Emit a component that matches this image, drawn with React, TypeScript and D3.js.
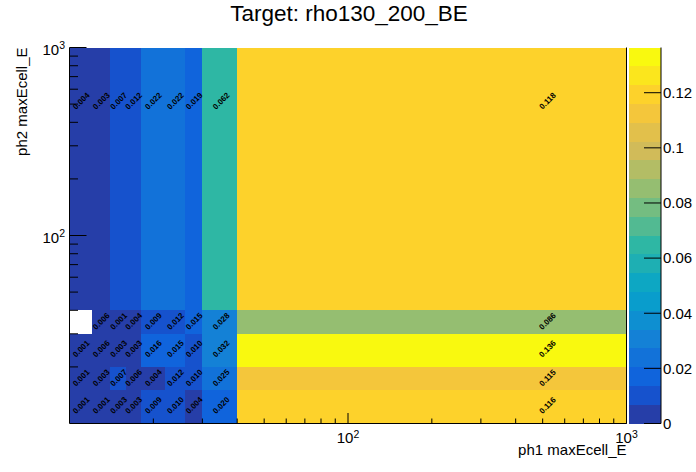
import React from 'react';
import * as d3 from 'd3';

// ---- data ----
const xEdges = [10, 12, 14, 16, 18, 22, 26, 30, 40, 1000];
const yEdges = [10, 15, 20, 30, 40, 1000];
const row0 = [0.001, 0.001, 0.003, 0.003, 0.009, 0.010, 0.004, 0.020, 0.116];
const row1 = [0.001, 0.003, 0.007, 0.006, 0.004, 0.012, 0.010, 0.025, 0.115];
const row2 = [0.001, 0.006, 0.003, 0.003, 0.016, 0.015, 0.010, 0.032, 0.1364];
const row3 = [0, 0.006, 0.001, 0.004, 0.009, 0.012, 0.015, 0.028, 0.086];
const row4 = [0.004, 0.003, 0.007, 0.012, 0.022, 0.022, 0.019, 0.062, 0.118];
const rows = [row0, row1, row2, row3, row4];
const majorTicks = [100, 1000];
const minorTicks = [20, 30, 40, 50, 60, 70, 80, 90, 200, 300, 400, 500, 600, 700, 800, 900];
const zTicks = [0, 0.02, 0.04, 0.06, 0.08, 0.1, 0.12];
const zTickLabels = ['0', '0.02', '0.04', '0.06', '0.08', '0.1', '0.12'];
const title = 'Target: rho130_200_BE';
const xTitle = 'ph1 maxEcell_E';
const yTitle = 'ph2 maxEcell_E';

// ROOT kBird palette
const birdStops = [0.0, 0.125, 0.25, 0.375, 0.5, 0.625, 0.75, 0.875, 1.0];
const birdR = [0.2082, 0.0592, 0.0780, 0.0232, 0.1802, 0.5301, 0.8186, 0.9956, 0.9764];
const birdG = [0.1664, 0.3599, 0.5041, 0.6419, 0.7178, 0.7492, 0.7328, 0.7862, 0.9832];
const birdB = [0.5293, 0.8684, 0.8385, 0.7914, 0.6425, 0.4662, 0.3499, 0.1968, 0.0539];
const NCOL = 255;
const NDIV = 20;

function buildPalette(): string[] {
  const cols: string[] = [];
  for (let g = 1; g < birdStops.length; g++) {
    const len = Math.floor(birdStops[g] * NCOL) - Math.floor(birdStops[g - 1] * NCOL);
    for (let c = 0; c < len; c++) {
      const r = birdR[g - 1] + (c * (birdR[g] - birdR[g - 1])) / len;
      const gg = birdG[g - 1] + (c * (birdG[g] - birdG[g - 1])) / len;
      const b = birdB[g - 1] + (c * (birdB[g] - birdB[g - 1])) / len;
      cols.push(d3.rgb(r * 255, gg * 255, b * 255).formatHex());
    }
  }
  return cols;
}
const palette = buildPalette();
const levelColor = (i: number) => palette[Math.min(palette.length - 1, Math.floor(((i + 0.99) * NCOL) / NDIV))];

const W = 696;
const H = 472;
const X0 = 69.5, X1 = 626.5, Y0 = 47.5, Y1 = 423.5;
const CB0 = 629, CB1 = 661;
const FONT = 'Liberation Sans, Arial, Helvetica, sans-serif';

export default function App() {
  const x = d3.scaleLog().domain([xEdges[0], xEdges[xEdges.length - 1]]).range([X0, X1]);
  const y = d3.scaleLog().domain([yEdges[0], yEdges[yEdges.length - 1]]).range([Y1, Y0]);
  const zmax = d3.max(rows.flat()) as number;
  const z = d3.scaleLinear().domain([0, zmax]).range([Y1, Y0]);
  const levelOf = (v: number) => Math.min(NDIV - 1, Math.floor(0.01 + (v * NDIV) / zmax));

  const cells: any[] = [];
  rows.forEach((row, j) => {
    row.forEach((v, i) => {
      cells.push({ i, j, v });
    });
  });

  return (
    <svg width={W} height={H} style={{ position: 'absolute', left: 0, top: 0, background: '#fff' }} fontFamily={FONT}>
      <rect x={0} y={0} width={W} height={H} fill="#fff" />
      {/* cells */}
      {cells.filter(c => c.v > 0).map(c => (
        <rect key={`c${c.i}-${c.j}`}
          x={x(xEdges[c.i])} y={y(yEdges[c.j + 1])}
          width={x(xEdges[c.i + 1]) - x(xEdges[c.i])}
          height={y(yEdges[c.j]) - y(yEdges[c.j + 1])}
          fill={levelColor(levelOf(c.v))} shapeRendering="crispEdges" />
      ))}
      {/* cell text */}
      {cells.filter(c => c.v > 0).map(c => {
        const cx = x((xEdges[c.i] + xEdges[c.i + 1]) / 2);
        const cy = y((yEdges[c.j] + yEdges[c.j + 1]) / 2);
        return (
          <text key={`t${c.i}-${c.j}`} x={cx} y={cy} transform={`rotate(-45 ${cx} ${cy})`}
            textAnchor="middle" dy="0.35em" fontSize={8} fontWeight="bold" fill="#000">{c.v.toFixed(3)}</text>
        );
      })}
      {/* frame lines */}
      <line x1={X0} x2={X0} y1={Y0} y2={Y1} stroke="#000" strokeWidth={1} />
      <line x1={X0} x2={X1} y1={Y1} y2={Y1} stroke="#000" strokeWidth={1} />
      <line x1={X1} x2={X1} y1={Y0} y2={Y1} stroke="#000" strokeWidth={1} />
      {/* x ticks */}
      {majorTicks.map(t => (
        <line key={`xm${t}`} x1={x(t)} x2={x(t)} y1={Y1} y2={Y1 - 10.5} stroke="#000" />
      ))}
      {minorTicks.map(t => (
        <line key={`xn${t}`} x1={x(t)} x2={x(t)} y1={Y1} y2={Y1 - 5} stroke="#000" />
      ))}
      {/* y ticks */}
      {majorTicks.map(t => (
        <line key={`ym${t}`} x1={X0} x2={X0 + 17} y1={y(t)} y2={y(t)} stroke="#000" />
      ))}
      {minorTicks.map(t => (
        <line key={`yn${t}`} x1={X0} x2={X0 + 8.5} y1={y(t)} y2={y(t)} stroke="#000" />
      ))}
      {/* x tick labels */}
      {majorTicks.map(t => (
        <text key={`xl${t}`} x={x(t)} y={443} textAnchor="middle" fontSize={15} fill="#000">
          10<tspan fontSize={10.5} dy={-5.5}>{Math.round(Math.log10(t))}</tspan>
        </text>
      ))}
      {/* y tick labels */}
      {majorTicks.map(t => (
        <text key={`yl${t}`} x={65} y={y(t) + 7} textAnchor="end" fontSize={15} fill="#000">
          10<tspan fontSize={10.5} dy={-5.5}>{Math.round(Math.log10(t))}</tspan>
        </text>
      ))}
      {/* axis titles */}
      <text x={X1} y={455} textAnchor="end" fontSize={15} fill="#000">{xTitle}</text>
      <text x={27} y={Y0} transform={`rotate(-90 27 ${Y0})`} textAnchor="end" fontSize={15} fill="#000">{yTitle}</text>
      {/* title */}
      <text x={349} y={21} textAnchor="middle" fontSize={22.5} fill="#000">{title}</text>
      {/* colorbar */}
      {d3.range(NDIV).map(i => (
        <rect key={`cb${i}`} x={CB0} width={CB1 - CB0}
          y={z(((i + 1) * zmax) / NDIV)} height={z((i * zmax) / NDIV) - z(((i + 1) * zmax) / NDIV)}
          fill={levelColor(i)} shapeRendering="crispEdges" />
      ))}
      <line x1={CB1} x2={CB1} y1={Y0} y2={Y1} stroke="#000" />
      {zTicks.map((t, k) => (
        <g key={`zt${k}`}>
          <line x1={CB1 - 17} x2={CB1} y1={z(t)} y2={z(t)} stroke="#000" />
          <text x={663} y={z(t) + 5.3} fontSize={15} fill="#000">{zTickLabels[k]}</text>
        </g>
      ))}
    </svg>
  );
}
